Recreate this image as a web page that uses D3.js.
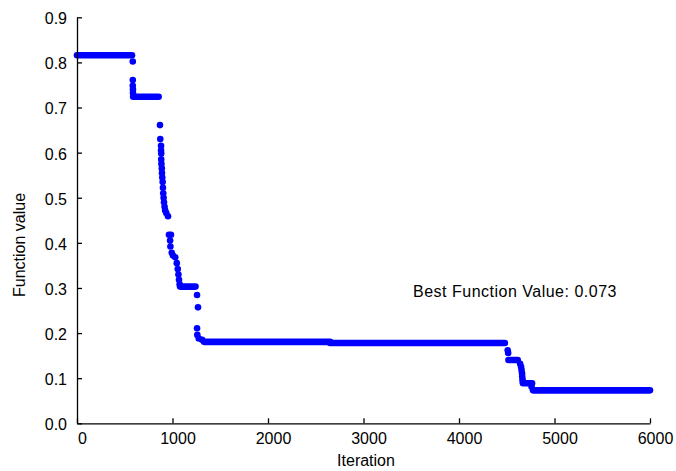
<!DOCTYPE html>
<html>
<head>
<meta charset="utf-8">
<script src="https://cdn.jsdelivr.net/npm/d3@7"></script>
<style>
  html, body { margin: 0; padding: 0; background: #fff; }
  svg text { font-family: "Liberation Sans", Arial, Helvetica, sans-serif; fill: #000; }
</style>
</head>
<body>
<svg id="chart" width="676" height="471"></svg>
<script>
// Flat stretches of the best-so-far value: start iteration, end iteration, value
const plateauStart = [0, 588, 1079, 1330, 2650, 4518, 4670, 4775];
const plateauEnd   = [576, 855, 1241, 2650, 4480, 4615, 4765, 6000];
const plateauValue = [0.816, 0.724, 0.303, 0.1805, 0.178, 0.1404, 0.0887, 0.073];

// Individual improvements between the flat stretches
const dropIterations = [
  584, 584, 584, 586, 586,
  869, 872, 880, 880, 882, 882, 884, 888, 890, 893, 897, 900, 903, 907, 911, 917, 923, 935, 953,
  963, 984, 975, 978, 992, 1005, 1029, 1045, 1055, 1062, 1068, 1075,
  1257, 1267, 1257, 1260, 1275, 1310,
  4510, 4515,
  4640, 4650, 4655, 4660, 4662, 4665, 4668,
  4760
];
const dropValues = [
  0.802, 0.761, 0.748, 0.740, 0.732,
  0.661, 0.630, 0.615, 0.605, 0.598, 0.585, 0.575, 0.565, 0.555, 0.545, 0.535, 0.522, 0.510, 0.500, 0.490, 0.480, 0.472, 0.466, 0.459,
  0.418, 0.418, 0.405, 0.392, 0.378, 0.372, 0.368, 0.355, 0.342, 0.330, 0.318, 0.308,
  0.2845, 0.257, 0.2106, 0.196, 0.188, 0.185,
  0.162, 0.156,
  0.132, 0.125, 0.118, 0.111, 0.104, 0.097, 0.092,
  0.081
];

const xTicks = [0, 1000, 2000, 3000, 4000, 5000, 6000];
const yTicks = [0, 0.1, 0.2, 0.3, 0.4, 0.5, 0.6, 0.7, 0.8, 0.9];
const bestValue = 0.073;

const svg = d3.select("#chart");
const x = d3.scaleLinear().domain([0, 6000]).range([77, 650]);
const y = d3.scaleLinear().domain([0, 0.9]).range([423.3, 17.3]);

const dotColor = "#0000ff";
const dotR = 3.3;

// Flat stretches drawn as thick round-capped strokes (rows of overlapping dots)
svg.append("g")
  .selectAll("line")
  .data(plateauValue.map((v, i) => ({ s: plateauStart[i], e: plateauEnd[i], v })))
  .join("line")
  .attr("x1", d => x(d.s))
  .attr("x2", d => x(d.e))
  .attr("y1", d => y(d.v))
  .attr("y2", d => y(d.v))
  .attr("stroke", dotColor)
  .attr("stroke-width", dotR * 2)
  .attr("stroke-linecap", "round");

svg.append("g")
  .selectAll("circle")
  .data(dropValues.map((v, i) => ({ it: dropIterations[i], v })))
  .join("circle")
  .attr("cx", d => x(d.it))
  .attr("cy", d => y(d.v))
  .attr("r", dotR)
  .attr("fill", dotColor);

// Axes with inward ticks
const xAxis = d3.axisBottom(x).tickValues(xTicks).tickSizeInner(-5).tickSizeOuter(0)
  .tickPadding(9).tickFormat(d3.format("d"));
const gx = svg.append("g").attr("transform", "translate(0,423.3)").call(xAxis);
gx.selectAll("text").attr("font-size", 16).attr("dx", 5);

const yAxis = d3.axisLeft(y).tickValues(yTicks).tickSizeInner(-5).tickSizeOuter(0)
  .tickPadding(10).tickFormat(d3.format(".1f"));
const gy = svg.append("g").attr("transform", "translate(77,0)").call(yAxis);
gy.selectAll("text").attr("font-size", 16).attr("dy", "0.4em");

svg.selectAll(".domain, .tick line").attr("stroke", "#000").attr("stroke-width", 1.3);
svg.selectAll(".tick text").style("font-family", "'Liberation Sans', Arial, sans-serif");

// Axis titles
svg.append("text")
  .attr("x", 366).attr("y", 466)
  .attr("text-anchor", "middle").attr("font-size", 16)
  .text("Iteration");

svg.append("text")
  .attr("transform", "translate(25,245) rotate(-90)")
  .attr("text-anchor", "middle").attr("font-size", 16)
  .text("Function value");

// Annotation with the final best value
svg.append("text")
  .attr("x", 413).attr("y", 297.3)
  .attr("font-size", 16).attr("letter-spacing", "0.5px")
  .text("Best Function Value: " + d3.format(".3f")(bestValue));
</script>
</body>
</html>
